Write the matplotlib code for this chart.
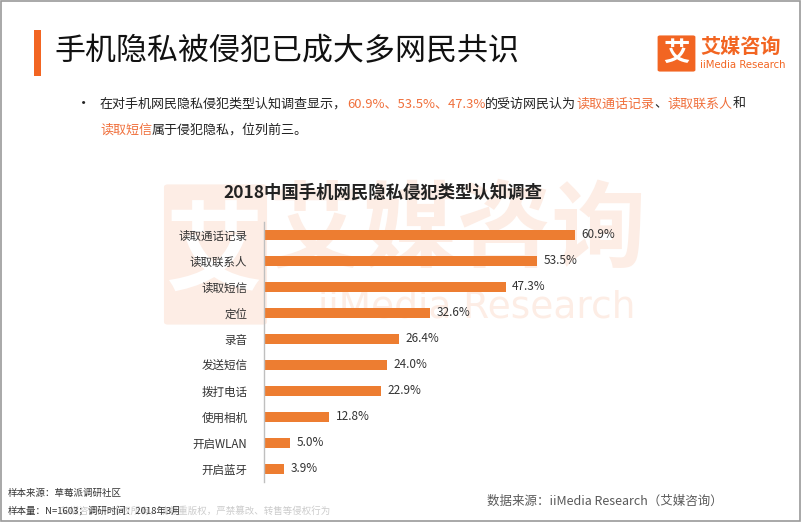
import matplotlib.pyplot as plt
from matplotlib.patches import Rectangle, FancyBboxPatch

plt.rcParams['font.family'] = ['Noto Sans CJK SC', 'DejaVu Sans']

categories = ['读取通话记录', '读取联系人', '读取短信', '定位', '录音',
              '发送短信', '拨打电话', '使用相机', '开启WLAN', '开启蓝牙']
values = [60.9, 53.5, 47.3, 32.6, 26.4, 24.0, 22.9, 12.8, 5.0, 3.9]

title = '手机隐私被侵犯已成大多网民共识'
chart_title = '2018中国手机网民隐私侵犯类型认知调查'
bullet_line1 = [('在对手机网民隐私侵犯类型认知调查显示，', False),
                ('60.9%、53.5%、47.3%', True),
                ('的受访网民认为', False),
                ('读取通话记录', True),
                ('、', False),
                ('读取联系人', True),
                ('和', False)]
bullet_line2 = [('读取短信', True), ('属于侵犯隐私，位列前三。', False)]

ORANGE = '#ED7D31'
HILITE = '#F0703C'
W, H = 802, 522

fig = plt.figure(figsize=(W / 100, H / 100), dpi=100)


def fx(px):
    return px / W


def fy(py):
    return 1 - py / H


# slide border
fig.patches.append(Rectangle((0.001, 0.002), 0.997, 0.996, transform=fig.transFigure,
                             fill=False, edgecolor='#9a9a9a', linewidth=1.2))

# watermark (behind the chart)
wm = '#FDEDE5'
fig.patches.append(FancyBboxPatch((fx(168), fy(322)), fx(95), 135 / H,
                                  boxstyle='round,pad=0.005', transform=fig.transFigure,
                                  facecolor=wm, edgecolor='none', zorder=-3))
fig.text(fx(215), fy(255), '艾', fontsize=70, color='white', ha='center', va='center',
         fontweight='bold', zorder=-2)
fig.text(fx(268), fy(232), '艾媒咨询', fontsize=68, color=wm, ha='left', va='center',
         fontweight='bold', zorder=-2)
fig.text(fx(318), fy(308), 'iiMedia Research', fontsize=27, color=wm, ha='left',
         va='center', family=['DejaVu Sans'], zorder=-2)

# title bar
fig.patches.append(Rectangle((fx(34), fy(76)), fx(7), 46 / H, transform=fig.transFigure,
                             facecolor='#F26522', edgecolor='none'))
fig.text(fx(54), fy(52), title, fontsize=22.3, color='#111111', ha='left', va='center',
         fontweight='medium')

# logo
fig.patches.append(FancyBboxPatch((fx(660), fy(70)), fx(33), 33 / H,
                                  boxstyle='round,pad=0.003', transform=fig.transFigure,
                                  facecolor='#F26522', edgecolor='none'))
fig.text(fx(676.5), fy(53), '艾', fontsize=19, color='white', ha='center', va='center',
         fontweight='bold')
fig.text(fx(700), fy(46), '艾媒咨询', fontsize=14.5, color='#F26522', ha='left', va='center',
         fontweight='bold')
fig.text(fx(700), fy(65), 'iiMedia Research', fontsize=7.3, color='#F26522', ha='left',
         va='center', family=['DejaVu Sans'])

# bullet text with coloured segments
fig.text(fx(76), fy(104), '•', fontsize=11, color='#222222', ha='left', va='center')
renderer = fig.canvas.get_renderer()


def draw_line(segments, x0, y0):
    x = x0
    for s, hl in segments:
        t = fig.text(x, y0, s, fontsize=9.4, color=HILITE if hl else '#222222',
                     ha='left', va='center')
        bb = t.get_window_extent(renderer=renderer)
        x += bb.width / fig.bbox.width


draw_line(bullet_line1, fx(100), fy(104))
draw_line(bullet_line2, fx(100), fy(130))

# chart
ax = fig.add_axes([fx(264), fy(482), fx(376), 260 / H])
ax.set_zorder(1)
ax.patch.set_alpha(0)
pos = list(range(len(categories)))
ax.barh(pos, values, height=0.4, color=ORANGE, zorder=2)
ax.set_ylim(len(categories) - 0.5, -0.5)
ax.set_xlim(0, 376 / 5.107)
ax.set_yticks(pos)
ax.set_yticklabels(categories, fontsize=8.3, color='#333333')
ax.tick_params(axis='y', length=0, pad=12)
ax.set_xticks([])
for sp in ['top', 'right', 'bottom']:
    ax.spines[sp].set_visible(False)
ax.spines['left'].set_color('#bfbfbf')
ax.spines['left'].set_linewidth(1)
for i, v in enumerate(values):
    ax.text(v + 1.3, i, f'{v:.1f}%', fontsize=8.5, color='#333333', va='center', ha='left')

fig.text(fx(383), fy(193), chart_title, fontsize=12.5, fontweight='bold', color='#222222',
         ha='center', va='center', zorder=2)

# footer
fig.text(fx(8), fy(493), '样本来源：草莓派调研社区', fontsize=6.8, color='#333333',
         ha='left', va='center')
fig.text(fx(60), fy(511), '艾媒咨询 · 版权所有，请尊重版权，严禁篡改、转售等侵权行为',
         fontsize=6.8, color='#cccccc', ha='left', va='center')
fig.text(fx(8), fy(511), '样本量：N=1603；调研时间：2018年3月', fontsize=6.8,
         color='#333333', ha='left', va='center')
fig.text(fx(487), fy(501), '数据来源：iiMedia Research（艾媒咨询）', fontsize=9,
         color='#595959', ha='left', va='center')

fig.savefig('out.png', dpi=100)
